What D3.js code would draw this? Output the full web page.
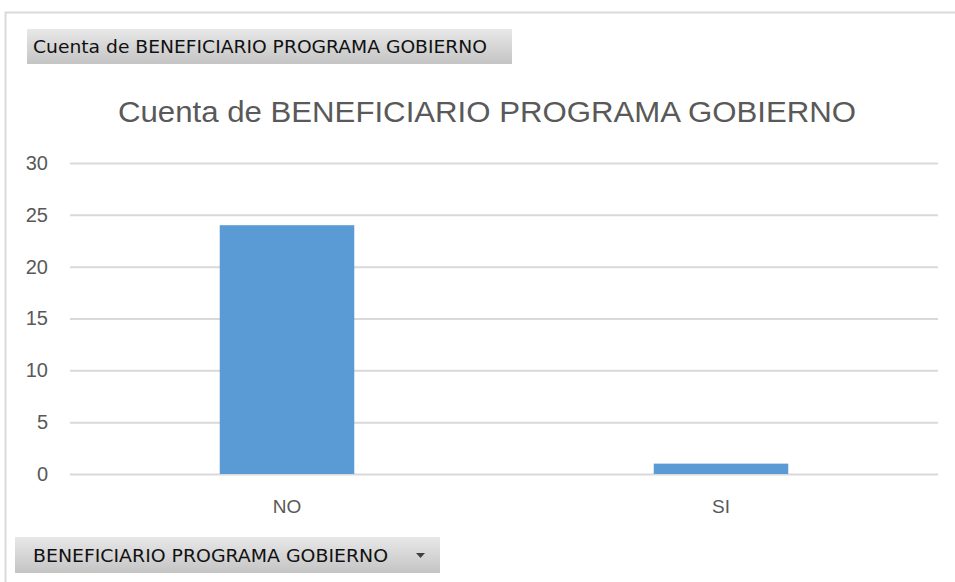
<!DOCTYPE html>
<html>
<head>
<meta charset="utf-8">
<script src="https://cdn.jsdelivr.net/npm/d3@7"></script>
<style>
  body { margin: 0; background: #fff; }
  svg { display: block; font-family: "Liberation Sans", Arial, sans-serif; }
</style>
</head>
<body>
<div id="chart"></div>
<script>
const categories = ["NO", "SI"];
const counts = [24, 1];
const yTicks = [0, 5, 10, 15, 20, 25, 30];
const chartTitle = "Cuenta de BENEFICIARIO PROGRAMA GOBIERNO";
const valueButton = "Cuenta de BENEFICIARIO PROGRAMA GOBIERNO";
const axisButton = "BENEFICIARIO PROGRAMA GOBIERNO";

const W = 955, H = 582;
const margin = {top: 163, right: 17, bottom: 108, left: 70};
const width = W - margin.left - margin.right;
const height = H - margin.top - margin.bottom;

const svg = d3.select("#chart").append("svg")
    .attr("width", W).attr("height", H);

// grey button gradient
const defs = svg.append("defs");
const grad = defs.append("linearGradient").attr("id", "btn")
    .attr("x1", 0).attr("y1", 0).attr("x2", 0).attr("y2", 1);
grad.append("stop").attr("offset", "0%").attr("stop-color", "#e8e8e8");
grad.append("stop").attr("offset", "100%").attr("stop-color", "#c4c4c4");

// outer frame (top + left only visible)
svg.append("path")
    .attr("d", "M5.5,582 V12.5 H955")
    .attr("fill", "none")
    .attr("stroke", "#d9d9d9")
    .attr("stroke-width", 2);

// value field button
svg.append("rect").attr("x", 27).attr("y", 29).attr("width", 485).attr("height", 35)
    .attr("fill", "url(#btn)");
svg.append("text").attr("x", 33).attr("y", 53)
    .attr("font-family", "'DejaVu Sans Condensed', 'DejaVu Sans', sans-serif")
    .attr("font-size", 17).attr("fill", "#111")
    .attr("textLength", 454).attr("lengthAdjust", "spacingAndGlyphs")
    .text(valueButton);

// title
svg.append("text").attr("x", 487).attr("y", 122)
    .attr("text-anchor", "middle")
    .attr("font-size", 29).attr("fill", "#595959")
    .attr("textLength", 738).attr("lengthAdjust", "spacingAndGlyphs")
    .text(chartTitle);

const g = svg.append("g").attr("transform", `translate(${margin.left},${margin.top})`);

const x = d3.scaleBand().domain(categories).range([0, width])
    .paddingInner(0.69).paddingOuter(0.345);
const y = d3.scaleLinear().domain([0, 30]).range([height, 0]);

// gridlines
g.append("g")
  .call(d3.axisLeft(y).tickValues(yTicks).tickSize(-width).tickFormat(""))
  .call(a => a.select(".domain").remove())
  .call(a => a.selectAll("line").attr("stroke", "#d9d9d9").attr("stroke-width", 2));

// y labels
g.append("g")
  .call(d3.axisLeft(y).tickValues(yTicks).tickSize(0).tickPadding(22))
  .call(a => a.select(".domain").remove())
  .call(a => a.selectAll("text").attr("fill", "#595959").attr("font-size", 20)
      .attr("font-family", "'Liberation Sans', Arial, sans-serif"));

// bars
g.selectAll(".bar").data(counts).enter().append("rect")
    .attr("class", "bar")
    .attr("x", (d, i) => x(categories[i]))
    .attr("y", d => y(d))
    .attr("width", x.bandwidth())
    .attr("height", d => height - y(d))
    .attr("fill", "#5b9bd5");

// x labels
g.append("g").attr("transform", `translate(0,${height})`)
  .call(d3.axisBottom(x).tickSize(0).tickPadding(26))
  .call(a => a.select(".domain").remove())
  .call(a => a.selectAll("text").attr("fill", "#595959").attr("font-size", 19)
      .attr("font-family", "'Liberation Sans', Arial, sans-serif"));

// axis field button
svg.append("rect").attr("x", 15).attr("y", 537).attr("width", 425).attr("height", 36)
    .attr("fill", "url(#btn)");
svg.append("text").attr("x", 33).attr("y", 562)
    .attr("font-family", "'DejaVu Sans Condensed', 'DejaVu Sans', sans-serif")
    .attr("font-size", 17).attr("fill", "#111")
    .attr("textLength", 355).attr("lengthAdjust", "spacingAndGlyphs")
    .text(axisButton);
svg.append("path").attr("d", "M416,553 h9 l-4.5,5 z").attr("fill", "#404040");
</script>
</body>
</html>
